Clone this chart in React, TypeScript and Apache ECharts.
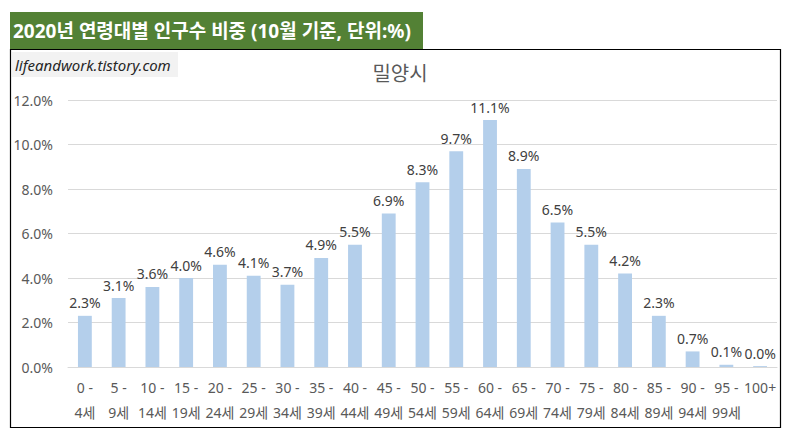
import React, { useEffect, useRef } from "react";
import * as echarts from "echarts";

const categories = [
  "0 -\n4세", "5 -\n9세", "10 -\n14세", "15 -\n19세", "20 -\n24세", "25 -\n29세",
  "30 -\n34세", "35 -\n39세", "40 -\n44세", "45 -\n49세", "50 -\n54세", "55 -\n59세",
  "60 -\n64세", "65 -\n69세", "70 -\n74세", "75 -\n79세", "80 -\n84세", "85 -\n89세",
  "90 -\n94세", "95 -\n99세", "100+",
];
const shares = [
  2.3, 3.1, 3.6, 4.0, 4.6, 4.1, 3.7, 4.9, 5.5, 6.9, 8.3, 9.7,
  11.1, 8.9, 6.5, 5.5, 4.2, 2.3, 0.7, 0.1, 0.04,
];
const yTicks = { min: 0, max: 12, interval: 2 };

const FONT = "'Noto Sans', 'Noto Sans CJK KR', sans-serif";

const App = () => {
  const chartRef = useRef<HTMLDivElement>(null);

  useEffect(() => {
    document.body.style.margin = "0";
    const dom = chartRef.current;
    if (!dom) return;
    const chart = echarts.init(dom, null, { renderer: "svg" });
    chart.setOption({
      animation: false,
      textStyle: { fontFamily: FONT },
      title: {
        text: "밀양시",
        left: 395,
        top: 58,
        textAlign: "center",
        textStyle: { fontSize: 20, fontWeight: "normal", color: "#595959", fontFamily: FONT },
      },
      graphic: [
        {
          type: "rect",
          shape: { x: 10, y: 12, width: 413, height: 37 },
          style: { fill: "#538135" },
        },
        {
          type: "text",
          x: 13,
          y: 30.5,
          style: {
            text: "2020년 연령대별 인구수 비중 (10월 기준, 단위:%)",
            fill: "#ffffff",
            font: `bold 19px ${FONT}`,
            verticalAlign: "middle",
          },
        },
        {
          type: "rect",
          shape: { x: 10.5, y: 49.5, width: 770, height: 378 },
          style: { fill: "none", stroke: "#000000", lineWidth: 1.2 },
        },
        {
          type: "rect",
          shape: { x: 12, y: 52, width: 166, height: 25 },
          style: { fill: "#f2f2f2" },
        },
        {
          type: "text",
          x: 15,
          y: 64.5,
          style: {
            text: "lifeandwork.tistory.com",
            fill: "#262626",
            font: `italic 15px ${FONT}`,
            verticalAlign: "middle",
          },
        },
      ],
      grid: { left: 68, right: 11, top: 100, bottom: 72 },
      xAxis: {
        type: "category",
        data: categories,
        axisLine: { lineStyle: { color: "#d9d9d9" } },
        axisTick: { show: false },
        axisLabel: {
          interval: 0,
          color: "#595959",
          fontSize: 14,
          lineHeight: 25,
          margin: 8,
          fontFamily: FONT,
        },
      },
      yAxis: {
        type: "value",
        min: yTicks.min,
        max: yTicks.max,
        interval: yTicks.interval,
        axisLine: { show: false },
        axisTick: { show: false },
        splitLine: { lineStyle: { color: "#d9d9d9" } },
        axisLabel: {
          color: "#595959",
          fontSize: 14,
          margin: 15,
          fontFamily: FONT,
          formatter: (v: number) => v.toFixed(1) + "%",
        },
      },
      series: [
        {
          type: "bar",
          data: shares,
          barWidth: "41%",
          itemStyle: { color: "#b4cfeb" },
          label: {
            show: true,
            position: "top",
            distance: 6,
            color: "#404040",
            fontSize: 14,
            fontFamily: FONT,
            formatter: (p: any) => p.value.toFixed(1) + "%",
          },
        },
      ],
    });
    return () => {
      chart.dispose();
    };
  }, []);

  return <div ref={chartRef} style={{ width: 788, height: 439 }}></div>;
};

export default App;
